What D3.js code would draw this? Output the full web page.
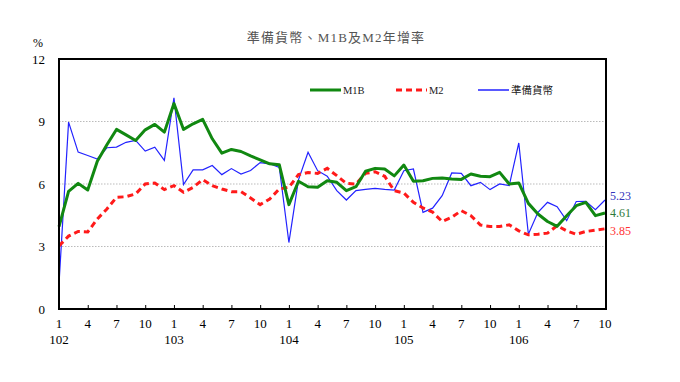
<!DOCTYPE html>
<html><head><meta charset="utf-8">
<script src="https://cdn.jsdelivr.net/npm/d3@7"></script>
<style>
body{margin:0;background:#fff;}
svg{display:block;}
</style></head>
<body>
<svg id="c" width="680" height="382"></svg>
<script>
const years = ["102","103","104","105","106"];
const monthTicks = [1,4,7,10];
const yTicks = [0,3,6,9,12];
const seriesNames = ["M1B","M2","準備貨幣"];
const m1b = [3.95,5.65,6.03,5.71,7.09,7.88,8.62,8.36,8.09,8.6,8.86,8.49,
  9.86,8.62,8.89,9.1,8.17,7.48,7.66,7.56,7.35,7.16,6.97,6.92,
  5.01,6.13,5.87,5.84,6.16,6.08,5.68,5.87,6.61,6.75,6.72,6.39,
  6.91,6.13,6.16,6.27,6.29,6.24,6.22,6.48,6.37,6.35,6.56,6.0,
  6.05,5.07,4.56,4.2,3.97,4.48,4.96,5.12,4.48,4.61];
const m2 = [3.03,3.5,3.72,3.7,4.32,4.8,5.36,5.39,5.52,6.0,6.05,5.73,
  5.92,5.6,5.84,6.21,5.92,5.76,5.63,5.63,5.33,5.01,5.28,5.76,
  5.84,6.45,6.55,6.51,6.75,6.4,6.03,6.0,6.51,6.59,6.37,5.68,
  5.57,5.12,4.85,4.65,4.2,4.4,4.72,4.48,4.03,3.96,3.96,4.04,
  3.75,3.56,3.59,3.64,4.0,3.75,3.59,3.72,3.78,3.85];
const reserve = [1.2,8.97,7.53,7.37,7.2,7.74,7.77,8.0,8.09,7.58,7.77,7.13,
  10.14,5.97,6.68,6.68,6.89,6.45,6.74,6.48,6.65,7.03,6.97,6.8,
  3.19,6.2,7.52,6.64,6.37,5.68,5.23,5.68,5.74,5.79,5.74,5.71,
  6.64,6.72,4.64,4.84,5.44,6.53,6.51,5.92,6.08,5.73,6.0,5.92,
  7.97,3.59,4.64,5.12,4.91,4.24,5.16,5.17,4.77,5.23];

const svg = d3.select("#c");
const L=59, R=605, T=59, B=309;
const n = m1b.length;
const x = d3.scaleLinear().domain([0,n-1]).range([L,R]);
const y = d3.scaleLinear().domain([0,12]).range([B,T]);
const serif = "'Liberation Serif','Times New Roman',serif";
const cjk = "'Liberation Serif','Noto Sans CJK TC',serif";

// title
svg.append("text").attr("x",336).attr("y",42).attr("text-anchor","middle")
  .attr("font-family",cjk).attr("font-size",13).attr("letter-spacing",1.2)
  .attr("fill","#555").text("準備貨幣、M1B及M2年增率");

// grid
svg.append("g").selectAll("line").data([3,6,9]).join("line")
  .attr("x1",L).attr("x2",R).attr("y1",d=>y(d)).attr("y2",d=>y(d))
  .attr("stroke","#aaa").attr("stroke-width",0.8).attr("stroke-dasharray","1.5,1.5");

// y axis labels
const yAxis = d3.axisLeft(y).tickValues(yTicks).tickSize(0).tickPadding(14);
const ga = svg.append("g").attr("transform",`translate(${L},0)`).call(yAxis);
ga.select(".domain").remove();
ga.selectAll("text").attr("font-family",serif).attr("font-size",13).attr("fill","#000");
svg.append("text").attr("x",38).attr("y",47).attr("text-anchor","middle")
  .attr("font-family",serif).attr("font-size",12).text("%");

// x ticks
const tickIdx = d3.range(0,n,3);
const xAxis = d3.axisTop(x).tickValues(tickIdx).tickSize(4).tickFormat("");
const gx = svg.append("g").attr("transform",`translate(0,${B})`).call(xAxis);
gx.select(".domain").remove();
gx.selectAll("line").attr("stroke","#000");
svg.append("g").selectAll("text").data(tickIdx).join("text")
  .attr("x",d=>x(d)).attr("y",328).attr("text-anchor","middle")
  .attr("font-family",serif).attr("font-size",13)
  .text(d=>monthTicks[(d/3)%4]);
svg.append("g").selectAll("text").data(years).join("text")
  .attr("x",(d,i)=>x(i*12)).attr("y",344).attr("text-anchor","middle")
  .attr("font-family",serif).attr("font-size",13).text(d=>d);

// lines
const line = d3.line().x((d,i)=>x(i)).y(d=>y(d));
svg.append("path").datum(reserve).attr("d",line).attr("fill","none")
  .attr("stroke","#2222ff").attr("stroke-width",1.2);
svg.append("path").datum(m2).attr("d",line).attr("fill","none")
  .attr("stroke","#ff1a1a").attr("stroke-width",3).attr("stroke-dasharray","6,4");
svg.append("path").datum(m1b).attr("d",line).attr("fill","none")
  .attr("stroke","#118811").attr("stroke-width",3).attr("stroke-linejoin","round");

// frame
svg.append("rect").attr("x",L).attr("y",T).attr("width",R-L+1).attr("height",B-T)
  .attr("fill","none").attr("stroke","#000").attr("stroke-width",2);

// legend
const leg = [
  {name:seriesNames[0],color:"#118811",w:3,dash:null,x:310},
  {name:seriesNames[1],color:"#ff1a1a",w:3,dash:"6,4",x:396},
  {name:seriesNames[2],color:"#2222ff",w:1.5,dash:null,x:478}
];
const lg = svg.append("g").selectAll("g").data(leg).join("g");
lg.append("line").attr("x1",d=>d.x).attr("x2",d=>d.x+31).attr("y1",90).attr("y2",90)
  .attr("stroke",d=>d.color).attr("stroke-width",d=>d.w).attr("stroke-dasharray",d=>d.dash);
lg.append("text").attr("x",d=>d.x+33).attr("y",94).attr("font-family",cjk)
  .attr("font-size",10.5).attr("fill","#222").text(d=>d.name);

// end labels
const ends = [
  {v:reserve[n-1],c:"#3333bb",dy:-4},
  {v:m1b[n-1],c:"#2f7a3a",dy:0},
  {v:m2[n-1],c:"#ff3333",dy:2}
];
svg.append("g").selectAll("text").data(ends).join("text")
  .attr("x",610).attr("y",d=>y(d.v)+d.dy+4).attr("font-family",serif)
  .attr("font-size",12).attr("fill",d=>d.c).text(d=>d.v.toFixed(2));
</script>
</body></html>
